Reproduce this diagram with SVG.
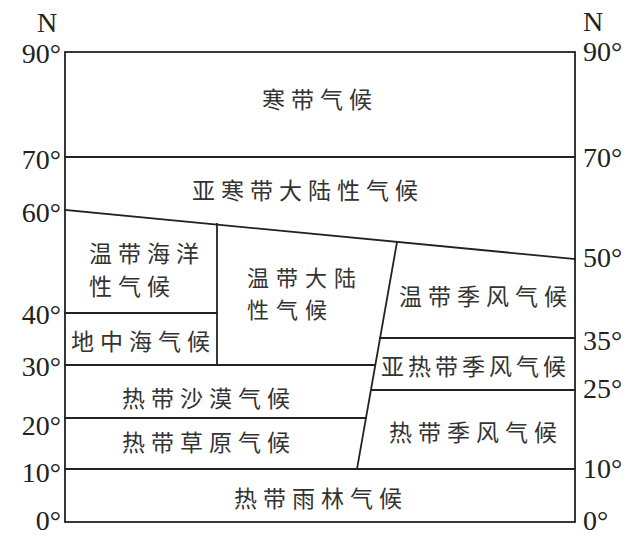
<svg xmlns="http://www.w3.org/2000/svg" width="641" height="542" viewBox="0 0 641 542">
<style>
.ln{stroke:#222;stroke-width:1.8;fill:none;stroke-linecap:square}
.lbl{font-family:"Noto Sans CJK SC","Noto Sans",sans-serif;font-size:23px;letter-spacing:6px;fill:#333;dominant-baseline:central}
.num{font-family:"Liberation Serif","Times New Roman",serif;font-size:28px;fill:#222}
.numL{text-anchor:end}
</style>
<rect width="641" height="542" fill="#fff"/>
<g id="connectors">
<rect class="ln" x="65" y="52" width="510" height="470"/>
<line class="ln" x1="65" y1="157" x2="575" y2="157"/>
<line class="ln" x1="65" y1="210" x2="575" y2="259"/>
<line class="ln" x1="217" y1="224" x2="217" y2="365"/>
<line class="ln" x1="65" y1="313" x2="217" y2="313"/>
<line class="ln" x1="65" y1="365" x2="374" y2="365"/>
<line class="ln" x1="397" y1="242" x2="357" y2="469"/>
<line class="ln" x1="380" y1="338" x2="575" y2="338"/>
<line class="ln" x1="372" y1="390" x2="575" y2="390"/>
<line class="ln" x1="65" y1="418" x2="366" y2="418"/>
<line class="ln" x1="65" y1="469" x2="575" y2="469"/>
</g>
<g id="axis-left">
<text class="num" x="47" y="32" text-anchor="middle" font-size="23">N</text>
<text class="num numL" x="61" y="63">90°</text>
<text class="num numL" x="61" y="169">70°</text>
<text class="num numL" x="61" y="222">60°</text>
<text class="num numL" x="61" y="324">40°</text>
<text class="num numL" x="61" y="376">30°</text>
<text class="num numL" x="61" y="435">20°</text>
<text class="num numL" x="61" y="482">10°</text>
<text class="num numL" x="61" y="530">0°</text>
</g>
<g id="axis-right">
<text class="num" x="583" y="31" font-size="23">N</text>
<text class="num" x="583" y="61">90°</text>
<text class="num" x="583" y="167">70°</text>
<text class="num" x="583" y="267">50°</text>
<text class="num" x="583" y="350">35°</text>
<text class="num" x="583" y="398">25°</text>
<text class="num" x="583" y="478">10°</text>
<text class="num" x="583" y="530">0°</text>
</g>
<g id="frigid"><text class="lbl" x="262" y="98">寒带气候</text></g>
<g id="subarctic"><text class="lbl" x="192" y="189">亚寒带大陆性气候</text></g>
<g id="temperate-oceanic"><text class="lbl" x="89" y="252">温带海洋</text><text class="lbl" x="89" y="285">性气候</text></g>
<g id="mediterranean"><text class="lbl" x="71" y="340">地中海气候</text></g>
<g id="temperate-continental"><text class="lbl" x="247" y="276" style="font-size:22px;letter-spacing:7px">温带大陆</text><text class="lbl" x="247" y="308" style="font-size:22px;letter-spacing:7px">性气候</text></g>
<g id="temperate-monsoon"><text class="lbl" x="399" y="295">温带季风气候</text></g>
<g id="subtropical-monsoon"><text class="lbl" x="381" y="365" style="letter-spacing:4px">亚热带季风气候</text></g>
<g id="tropical-desert"><text class="lbl" x="122" y="397">热带沙漠气候</text></g>
<g id="tropical-savanna"><text class="lbl" x="122" y="441">热带草原气候</text></g>
<g id="tropical-monsoon"><text class="lbl" x="389" y="431">热带季风气候</text></g>
<g id="tropical-rainforest"><text class="lbl" x="234" y="497">热带雨林气候</text></g>
</svg>
